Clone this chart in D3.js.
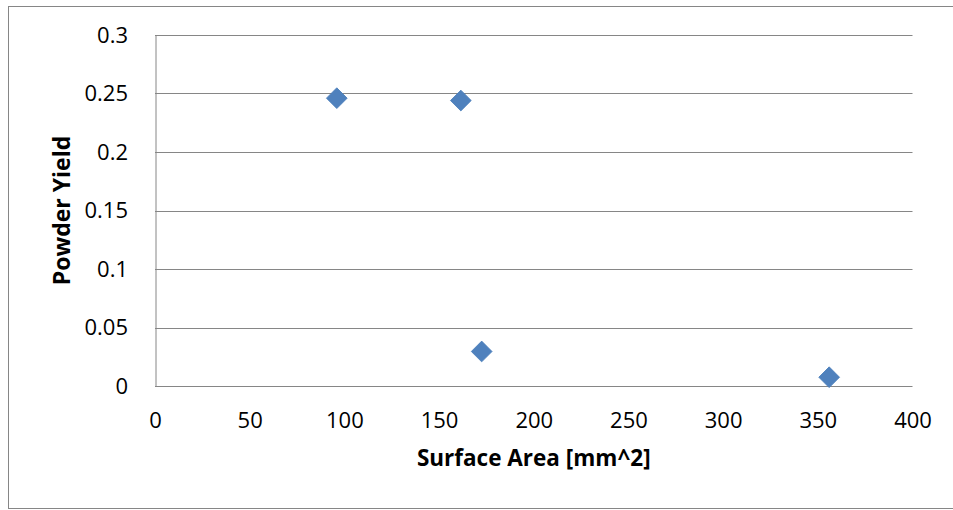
<!DOCTYPE html>
<html>
<head>
<meta charset="utf-8">
<script src="https://cdn.jsdelivr.net/npm/d3@7"></script>
<style>
  body { margin: 0; background: #fff; }
  text { font-family: "Open Sans", Calibri, sans-serif; fill: #000; }
</style>
</head>
<body>
<div id="chart"></div>
<script>
// data
var surfaceArea = [96, 161.5, 172.5, 356];
var powderYield = [0.246, 0.244, 0.0295, 0.0075];
var xTicks = [0, 50, 100, 150, 200, 250, 300, 350, 400];
var yTicks = [0, 0.05, 0.1, 0.15, 0.2, 0.25, 0.3];

var W = 953, H = 510;
var margin = {top: 35, right: 40.5, bottom: 124, left: 155};
var width = W - margin.left - margin.right,
    height = H - margin.top - margin.bottom;

var svg = d3.select("#chart")
  .append("svg")
    .attr("width", W)
    .attr("height", H);

// outer chart border
svg.append("rect")
  .attr("x", 8.5).attr("y", 6.5)
  .attr("width", W + 10).attr("height", 502)
  .attr("fill", "none")
  .attr("stroke", "#868686");

var g = svg.append("g")
  .attr("transform", "translate(" + margin.left + "," + margin.top + ")");

var x = d3.scaleLinear().domain([0, 400]).range([0, width]);
var y = d3.scaleLinear().domain([0, 0.3]).range([height, 0]);

// gridlines
g.append("g")
  .selectAll("line")
  .data(yTicks)
  .enter()
  .append("line")
    .attr("x1", 0).attr("x2", width)
    .attr("y1", function(d) { return Math.round(y(d)) + 0.5; })
    .attr("y2", function(d) { return Math.round(y(d)) + 0.5; })
    .attr("stroke", "#868686");

// Y axis
var yAxis = g.append("g")
  .call(d3.axisLeft(y).tickValues(yTicks).tickSize(0).tickPadding(27)
    .tickFormat(function(d) { return d3.format("")(+d.toFixed(2)); }));
yAxis.select(".domain").attr("stroke", "#868686").attr("transform", "translate(0.5,0)");
yAxis.selectAll("text").style("font-size", "22px").attr("font-family", null);

// X axis
var xAxis = g.append("g")
  .attr("transform", "translate(0," + height + ")")
  .call(d3.axisBottom(x).tickValues(xTicks).tickSize(0).tickPadding(26));
xAxis.select(".domain").remove();
xAxis.selectAll("text").style("font-size", "22px").attr("font-family", null);

// axis titles
svg.append("text")
  .attr("x", margin.left + width / 2)
  .attr("y", 466)
  .attr("text-anchor", "middle")
  .style("font-size", "22.5px")
  .style("font-weight", "bold")
  .text("Surface Area [mm^2]");

svg.append("text")
  .attr("transform", "translate(70," + (margin.top + height / 2) + ")rotate(-90)")
  .attr("text-anchor", "middle")
  .style("font-size", "23px")
  .style("font-weight", "bold")
  .text("Powder Yield");

// markers
g.selectAll("path.pt")
  .data(surfaceArea)
  .enter()
  .append("path")
    .attr("class", "pt")
    .attr("d", d3.symbol().type(d3.symbolSquare).size(215))
    .attr("transform", function(d, i) {
      return "translate(" + x(d) + "," + y(powderYield[i]) + ")rotate(45)";
    })
    .attr("fill", "#4F81BD")
    .attr("stroke", "#4A7EBB")
    .attr("stroke-width", 0.8);
</script>
</body>
</html>
